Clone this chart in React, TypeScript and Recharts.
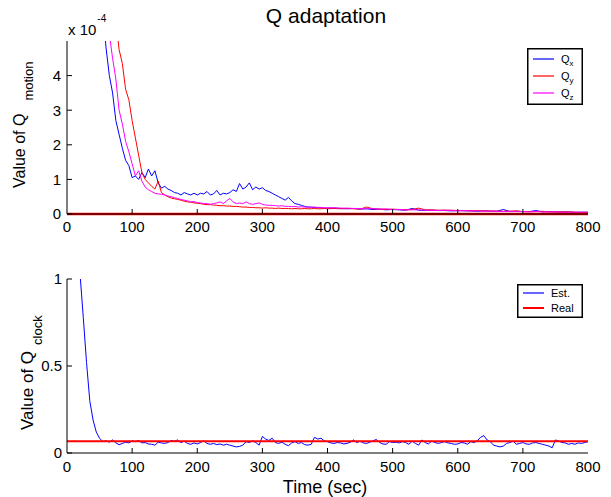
import { LineChart, Line, XAxis, YAxis, ReferenceLine, Legend } from 'recharts'

const FONT = '"Liberation Sans", Arial, Helvetica, sans-serif'
const INK = '#000'
const TICK_LEN = 5

// ---- top panel: Q_motion (values in units of 1e-4) ----
const motionTimes = [
  0, 20,
  40, 45, 50, 55, 60, 65, 70, 75, 80, 85,
  90, 95, 100, 105, 110, 115, 120, 125, 130, 135,
  140, 145, 150, 155, 160, 165, 170, 175, 180, 185,
  190, 195, 200, 205, 210, 215, 220, 225, 230, 235,
  240, 245, 250, 255, 260, 265, 270, 275, 280, 285,
  290, 295, 300, 305, 310, 315, 320, 325, 330, 335,
  340, 345, 350, 355, 360, 365, 370, 375, 380, 385,
  390, 395, 400,
  410, 420, 430, 440, 450, 460, 470, 480, 490, 500,
  510, 520, 530, 540, 550, 560, 570, 580, 590, 600,
  610, 620, 630, 640, 650, 660, 670, 680, 690, 700,
  710, 720, 730, 740, 750, 760, 770, 780, 790, 800,
]

const qx = [
  30, 18,
  9, 7.8, 6.8, 5.8, 4.8, 4.0, 3.5, 2.7, 2.3, 1.9,
  1.55, 1.4, 1.05, 1.1, 1.0, 1.2, 1.05, 1.3, 1.1, 1.25,
  0.9, 0.75, 0.8, 0.72, 0.68, 0.62, 0.6, 0.55, 0.62, 0.58,
  0.55, 0.6, 0.55, 0.6, 0.58, 0.65, 0.55, 0.58, 0.68, 0.55,
  0.6, 0.58, 0.62, 0.7, 0.65, 0.88, 0.72, 0.78, 0.9, 0.7,
  0.78, 0.72, 0.76, 0.68, 0.65, 0.6, 0.55, 0.5, 0.45, 0.4,
  0.48, 0.38, 0.3, 0.28, 0.25, 0.22, 0.2, 0.2, 0.19, 0.18,
  0.18, 0.17, 0.17,
  0.17, 0.16, 0.15, 0.16, 0.14, 0.15, 0.13, 0.14, 0.12, 0.13,
  0.12, 0.11, 0.16, 0.11, 0.1, 0.11, 0.1, 0.1, 0.09, 0.1,
  0.09, 0.09, 0.08, 0.09, 0.08, 0.08, 0.13, 0.07, 0.08, 0.07,
  0.07, 0.1, 0.06, 0.07, 0.06, 0.06, 0.06, 0.05, 0.05, 0.05,
]

const qy = [
  40, 25,
  14, 12.5, 11, 9.8, 8.5, 7.5, 6.5, 5.6, 4.75, 4.35,
  3.6, 3.3, 2.7, 2.2, 1.7, 1.2, 1.0, 0.9, 0.8, 0.72,
  0.95, 0.62, 0.55, 0.5, 0.46, 0.44, 0.42, 0.4, 0.37, 0.35,
  0.34, 0.32, 0.31, 0.3, 0.28, 0.27, 0.27, 0.26, 0.25, 0.24,
  0.24, 0.23, 0.23, 0.22, 0.22, 0.21, 0.2, 0.2, 0.19, 0.19,
  0.18, 0.18, 0.17, 0.18, 0.17, 0.17, 0.16, 0.17, 0.16, 0.16,
  0.16, 0.15, 0.16, 0.15, 0.15, 0.16, 0.15, 0.15, 0.16, 0.15,
  0.15, 0.16, 0.15,
  0.16, 0.15, 0.16, 0.15, 0.14, 0.2, 0.15, 0.14, 0.13, 0.14,
  0.13, 0.12, 0.13, 0.17, 0.12, 0.12, 0.11, 0.11, 0.11, 0.1,
  0.1, 0.09, 0.1, 0.09, 0.09, 0.08, 0.08, 0.08, 0.09, 0.07,
  0.07, 0.07, 0.08, 0.06, 0.06, 0.06, 0.06, 0.05, 0.05, 0.05,
]

const qz = [
  35, 20,
  11, 9.5, 8.2, 7.0, 6.0, 5.2, 4.5, 3.9, 3.0, 2.6,
  2.1, 1.8, 1.45, 1.1, 1.25, 0.95, 0.78, 0.7, 0.65, 0.6,
  0.58, 0.57, 0.55, 0.52, 0.5, 0.47, 0.45, 0.42, 0.4, 0.38,
  0.35, 0.36, 0.33, 0.32, 0.3, 0.3, 0.28, 0.3, 0.32, 0.35,
  0.3, 0.38, 0.45, 0.35, 0.3, 0.32, 0.3, 0.35, 0.3, 0.28,
  0.3, 0.32, 0.28, 0.26, 0.25, 0.25, 0.24, 0.23, 0.24, 0.22,
  0.22, 0.21, 0.22, 0.2, 0.21, 0.2, 0.2, 0.19, 0.2, 0.19,
  0.19, 0.18, 0.18,
  0.18, 0.17, 0.17, 0.16, 0.16, 0.15, 0.16, 0.14, 0.15, 0.13,
  0.13, 0.12, 0.12, 0.12, 0.11, 0.11, 0.1, 0.11, 0.1, 0.09,
  0.1, 0.09, 0.09, 0.08, 0.08, 0.08, 0.07, 0.08, 0.07, 0.07,
  0.06, 0.07, 0.06, 0.06, 0.06, 0.05, 0.05, 0.05, 0.05, 0.05,
]

const qMotionReal = 0

// ---- bottom panel: Q_clock ----
const clockTimes = [
  0, 5, 10, 15, 20, 25, 30, 35, 40, 45,
  50, 55, 60, 65, 70, 75, 80, 85, 90, 95,
  100, 105, 110, 115, 120, 125, 130, 135, 140, 145,
  150, 155, 160, 165, 170, 175, 180, 185, 190, 195,
  200, 205, 210, 215, 220, 225, 230, 235, 240, 245,
  250, 255, 260, 265, 270, 275, 280, 285, 290, 295,
  300, 305, 310, 315, 320, 325, 330, 335, 340, 345,
  350, 355, 360, 365, 370, 375, 380, 385, 390, 395,
  400, 405, 410, 415, 420, 425, 430, 435, 440, 445,
  450, 455, 460, 465, 470, 475, 480, 485, 490, 495,
  500, 505, 510, 515, 520, 525, 530, 535, 540, 545,
  550, 555, 560, 565, 570, 575, 580, 585, 590, 595,
  600, 605, 610, 615, 620, 625, 630, 635, 640, 645,
  650, 655, 660, 665, 670, 675, 680, 685, 690, 695,
  700, 705, 710, 715, 720, 725, 730, 735, 740, 745,
  750, 755, 760, 765, 770, 775, 780, 785, 790, 795,
  800,
]

const clockEst = [
  2.5, 2.0, 1.6, 1.25, 1.03, 0.78, 0.52, 0.3, 0.19, 0.12,
  0.085, 0.065, 0.07, 0.062, 0.075, 0.058, 0.048, 0.055, 0.062, 0.058,
  0.07, 0.065, 0.072, 0.058, 0.06, 0.052, 0.05, 0.045, 0.062, 0.058,
  0.055, 0.06, 0.072, 0.068, 0.075, 0.06, 0.068, 0.055, 0.05, 0.058,
  0.052, 0.06, 0.07, 0.055, 0.05, 0.055, 0.048, 0.052, 0.045, 0.05,
  0.045, 0.04, 0.035, 0.038, 0.045, 0.065, 0.06, 0.07, 0.06, 0.045,
  0.095, 0.08, 0.072, 0.085, 0.06, 0.055, 0.062, 0.05, 0.042, 0.058,
  0.065, 0.055, 0.06, 0.048, 0.045, 0.05, 0.09, 0.08, 0.085, 0.07,
  0.065, 0.058, 0.055, 0.06, 0.058, 0.052, 0.055, 0.062, 0.075, 0.06,
  0.068, 0.058, 0.055, 0.062, 0.07, 0.078, 0.06, 0.052, 0.05, 0.065,
  0.06, 0.062, 0.058, 0.065, 0.06, 0.05, 0.068, 0.055, 0.045, 0.075,
  0.06, 0.052, 0.068, 0.06, 0.055, 0.06, 0.065, 0.058, 0.055, 0.05,
  0.052, 0.06, 0.058, 0.05, 0.065, 0.06, 0.07, 0.09, 0.1, 0.075,
  0.065, 0.045, 0.04, 0.035, 0.04, 0.055, 0.06, 0.068, 0.05, 0.055,
  0.06, 0.052, 0.05, 0.058, 0.06, 0.055, 0.05, 0.045, 0.04, 0.03,
  0.075, 0.068, 0.06, 0.058, 0.05, 0.055, 0.05, 0.058, 0.055, 0.06,
  0.065,
]

const clockReal = 0.0675
const clockRealSpan = [0, 800]

const timeTicks = [0, 100, 200, 300, 400, 500, 600, 700, 800]
const innerTimeTicks = [100, 200, 300, 400, 500, 600, 700]
const motionTicks = [0, 1, 2, 3, 4]
const clockTicks = [0, 0.5, 1]

const motionRows = motionTimes.map((t, i) => ({ t, qx: qx[i], qy: qy[i], qz: qz[i] }))
const clockRows = clockTimes.map((t, i) => ({ t, est: clockEst[i] }))
const clockRealRows = clockRealSpan.map(t => ({ t, real: clockReal }))

const legendWidth: Record<string, number> = { Real: 2 }

// tick helpers (MATLAB style: marks point inwards)
function LeftTick(props: any) {
  const { x, y, payload, gap } = props
  const ax = x + gap
  return (
    <g>
      <line x1={ax} x2={ax + TICK_LEN} y1={y} y2={y} stroke={INK} />
      <text x={x} y={y} dy="0.36em" textAnchor="end" fontSize={15} fontFamily={FONT} fill={INK}>
        {payload.value}
      </text>
    </g>
  )
}

function BottomTick(props: any) {
  const { x, y, payload, gap } = props
  const ay = y - gap
  const inner = payload.value > 0 && payload.value < 800
  return (
    <g>
      {inner && <line x1={x} x2={x} y1={ay} y2={ay - TICK_LEN} stroke={INK} />}
      <text x={x} y={y} dy="0.71em" textAnchor="middle" fontSize={15} fontFamily={FONT} fill={INK}>
        {payload.value}
      </text>
    </g>
  )
}

function TopTick(props: any) {
  const { x, y } = props
  return <line x1={x} x2={x} y1={y} y2={y + TICK_LEN} stroke={INK} />
}

function RightTick(props: any) {
  const { x, y } = props
  return <line x1={x - TICK_LEN} x2={x} y1={y} y2={y} stroke={INK} />
}

function YTitle({ px, py, main, sub, size, gap, drop }: {
  px: number; py: number; main: string; sub: string; size: number; gap: number; drop: number
}) {
  return (
    <text transform={`translate(${px},${py}) rotate(-90)`} fontFamily={FONT} fill={INK}>
      <tspan fontSize={size}>{main}</tspan>
      <tspan fontSize={13} dx={gap} dy={drop}>{sub}</tspan>
    </text>
  )
}

function BoxLegend(props: any) {
  const { payload, w, h, first, step, sub } = props
  const items = payload ?? []
  return (
    <svg width={w} height={h} style={{ display: 'block' }}>
      <rect x={0.75} y={0.75} width={w - 1.5} height={h - 1.5} fill="#fff" stroke={INK} strokeWidth={1.5} />
      {items.map((it: any, i: number) => {
        const cy = first + i * step
        const [main, s] = String(it.value).split('_')
        return (
          <g key={String(it.value)}>
            <line x1={6} x2={27} y1={cy} y2={cy} stroke={it.color} strokeWidth={legendWidth[it.value] ?? 1.2} />
            <text x={34} y={cy + 4} fontSize={11} fontFamily={FONT} fill={INK}>
              {main}
              {sub && s && <tspan fontSize={8} dy={3}>{s}</tspan>}
            </text>
          </g>
        )
      })}
    </svg>
  )
}

function MotionChart() {
  return (
    <LineChart width={611} height={250} data={motionRows} margin={{ top: 41, right: 23, bottom: 0, left: 0 }}>
      <XAxis
        dataKey="t" type="number" domain={[0, 800]} ticks={timeTicks} interval={0}
        height={36} tickSize={0} tickMargin={7.5} tickLine={false}
        axisLine={{ stroke: INK }} tick={(p: any) => <BottomTick {...p} gap={7.5} />}
      />
      <XAxis
        xAxisId="top" orientation="top" type="number" domain={[0, 800]} ticks={innerTimeTicks}
        interval={0} height={0} tickSize={0} tickMargin={0} tickLine={false}
        axisLine={{ stroke: INK }} tick={(p: any) => <TopTick {...p} />}
      />
      <YAxis
        type="number" domain={[0, 5]} ticks={motionTicks} interval={0} allowDataOverflow
        width={67} tickSize={0} tickMargin={6} tickLine={false}
        axisLine={{ stroke: INK }} tick={(p: any) => <LeftTick {...p} gap={6} />}
      />
      <YAxis
        yAxisId="right" orientation="right" type="number" domain={[0, 5]} ticks={[1, 2, 3, 4]}
        interval={0} allowDataOverflow width={0} tickSize={0} tickMargin={0} tickLine={false}
        axisLine={{ stroke: INK }} tick={(p: any) => <RightTick {...p} />}
      />
      <Line dataKey="qx" name="Q_x" stroke="#0000ff" strokeWidth={1} dot={false} isAnimationActive={false} />
      <Line dataKey="qy" name="Q_y" stroke="#ff0000" strokeWidth={1} dot={false} isAnimationActive={false} />
      <Line dataKey="qz" name="Q_z" stroke="#ff00ff" strokeWidth={1} dot={false} isAnimationActive={false} />
      <ReferenceLine y={qMotionReal} stroke="#ff0000" strokeWidth={2.5} />
      <Legend
        layout="vertical" align="center" verticalAlign="middle"
        wrapperStyle={{ left: 527, top: 48, width: 56, height: 57 }}
        content={(p: any) => <BoxLegend {...p} w={56} h={57} first={11} step={17} sub />}
      />
      <text x={326} y={23} textAnchor="middle" fontSize={21} fontFamily={FONT} fill={INK}>Q adaptation</text>
      <text x={68} y={35} fontSize={15} fontFamily={FONT} fill={INK}>
        x 10<tspan fontSize={10} dx={1} dy={-13}>-4</tspan>
      </text>
      <YTitle px={25} py={188} main="Value of Q" sub="motion" size={16} gap={13} drop={8} />
    </LineChart>
  )
}

function ClockChart() {
  return (
    <LineChart width={611} height={247} data={clockRows} margin={{ top: 29, right: 23, bottom: 0, left: 0 }}>
      <XAxis
        dataKey="t" type="number" domain={[0, 800]} ticks={timeTicks} interval={0}
        height={44} tickSize={0} tickMargin={8} tickLine={false}
        axisLine={{ stroke: INK }} tick={(p: any) => <BottomTick {...p} gap={8} />}
      />
      <XAxis
        xAxisId="top" orientation="top" type="number" domain={[0, 800]} ticks={innerTimeTicks}
        interval={0} height={0} tickSize={0} tickMargin={0} tickLine={false}
        axisLine={{ stroke: INK }} tick={(p: any) => <TopTick {...p} />}
      />
      <YAxis
        type="number" domain={[0, 1]} ticks={clockTicks} interval={0} allowDataOverflow
        width={67} tickSize={0} tickMargin={5} tickLine={false}
        axisLine={{ stroke: INK }} tick={(p: any) => <LeftTick {...p} gap={5} />}
      />
      <YAxis
        yAxisId="right" orientation="right" type="number" domain={[0, 1]} ticks={[0.5]}
        interval={0} allowDataOverflow width={0} tickSize={0} tickMargin={0} tickLine={false}
        axisLine={{ stroke: INK }} tick={(p: any) => <RightTick {...p} />}
      />
      <Line dataKey="est" name="Est." stroke="#0000ff" strokeWidth={1} dot={false} isAnimationActive={false} />
      <Line data={clockRealRows} dataKey="real" name="Real" stroke="#ff0000" strokeWidth={2} dot={false} isAnimationActive={false} />
      <Legend
        layout="vertical" align="center" verticalAlign="middle"
        wrapperStyle={{ left: 517, top: 34, width: 66, height: 34 }}
        content={(p: any) => <BoxLegend {...p} w={66} h={34} first={9} step={15} />}
      />
      <YTitle px={33} py={180} main="Value of Q" sub="clock" size={17} gap={6} drop={9} />
      <text x={325} y={243} textAnchor="middle" fontSize={18} fontFamily={FONT} fill={INK}>Time (sec)</text>
    </LineChart>
  )
}

export default function App() {
  return (
    <div style={{ position: 'absolute', left: 0, top: 0, width: 611, height: 497, background: '#fff', fontFamily: FONT }}>
      <div style={{ position: 'absolute', left: 0, top: 0 }}>
        <MotionChart />
      </div>
      <div style={{ position: 'absolute', left: 0, top: 250 }}>
        <ClockChart />
      </div>
    </div>
  )
}
